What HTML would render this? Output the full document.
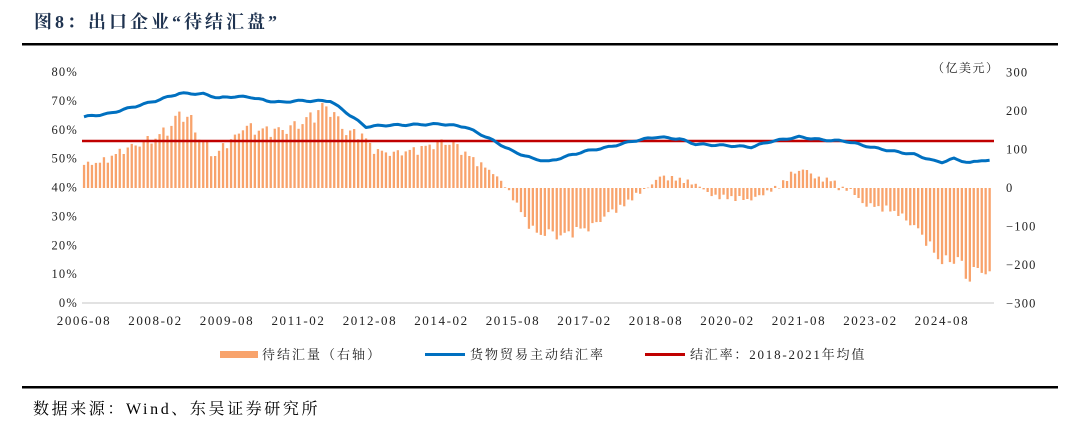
<!DOCTYPE html>
<html><head><meta charset="utf-8"><style>
body{margin:0;background:#fff;width:1080px;height:421px;overflow:hidden;font-family:"Liberation Serif","Noto Serif CJK SC",serif;}
</style></head><body>
<svg id="s" width="1080" height="421" xmlns="http://www.w3.org/2000/svg" font-family="Liberation Serif, Noto Serif CJK SC, serif">
<text x="34" y="28" font-size="18" font-weight="bold" fill="#1f3350" letter-spacing="3">图8：出口企业“待结汇盘”</text>
<rect x="22" y="43" width="1036" height="2.5" fill="#000"/>
<rect x="22" y="386" width="1036" height="2.5" fill="#000"/>
<text x="33" y="414" font-size="16" fill="#000" letter-spacing="2.6">数据来源：Wind、东吴证券研究所</text>
<g id="axes" font-size="12.5" fill="#222" letter-spacing="1.2"></g>
<g id="bars" fill="#f8a36c"></g>
<line x1="82" y1="303" x2="994" y2="303" stroke="#d9d9d9" stroke-width="1.5"/>
<line x1="82" y1="141" x2="994" y2="141" stroke="#c00000" stroke-width="2.5"/>
<polyline id="ln" fill="none" stroke="#0070c0" stroke-width="3" stroke-linejoin="round"/>
<text x="932" y="72" font-size="12" fill="#222" letter-spacing="1.5">（亿美元）</text>
<rect x="220" y="351" width="38" height="7" fill="#f8a36c"/>
<text x="262" y="359" font-size="13" fill="#222" letter-spacing="2">待结汇量（右轴）</text>
<rect x="425" y="353" width="40" height="3" fill="#0070c0"/>
<text x="470" y="359" font-size="13" fill="#222" letter-spacing="2">货物贸易主动结汇率</text>
<rect x="645" y="353" width="40" height="3" fill="#c00000"/>
<text x="690" y="359" font-size="13" fill="#222" letter-spacing="1.8">结汇率：2018-2021年均值</text>
</svg>
<script>
var NS="http://www.w3.org/2000/svg";
function el(t,a,p,txt){var e=document.createElementNS(NS,t);for(var k in a)e.setAttribute(k,a[k]);if(txt!==undefined)e.textContent=txt;p.appendChild(e);return e;}
var ax=document.getElementById('axes');
for(var i=0;i<=8;i++){var y=303-i*28.875;el('text',{x:78,y:y+4,'text-anchor':'end'},ax,(i*10)+'%');}
var rl=[300,200,100,0,-100,-200,-300];
for(var j=0;j<7;j++){var v=rl[j];var y=188-v*0.385;el('text',{x:1006,y:y+4},ax,v<0?'−'+(-v):''+v);}
var labs=['2006-08','2008-02','2009-08','2011-02','2012-08','2014-02','2015-08','2017-02','2018-08','2020-02','2021-08','2023-02','2024-08'];
var px=3.972;
for(var j=0;j<labs.length;j++){el('text',{x:84+j*18*px,y:325,'text-anchor':'middle','font-size':'13','letter-spacing':'1.6'},ax,labs[j]);}
function interp(k,i){for(var n=0;n<k.length-1;n++){if(i>=k[n][0]&&i<=k[n+1][0]){var t=(i-k[n][0])/(k[n+1][0]-k[n][0]);return k[n][1]+t*(k[n+1][1]-k[n][1]);}}return k[k.length-1][1];}
var L=[[0,64.5],[6,65.5],[14,68.5],[18,70],[24,72.6],[30,72.4],[34,71],[38,71.5],[42,71.3],[46,70],[50,69.5],[53,70],[62,70],[65,67],[71,61],[75,61.5],[90,62],[96,61],[102,57],[108,52.5],[113,50],[117,49],[122,51],[126,52.5],[132,54],[138,56],[144,57.5],[150,56.8],[154,55],[162,54.5],[168,54],[173,56],[180,57.5],[186,56.5],[192,56],[198,54],[204,52.5],[209,51.5],[214,49.2],[216,48.8],[219,50],[223,48.5],[226,49.5],[228,49.2]];
var B=[[0,60],[5,70],[10,100],[18,130],[22,160],[24,195],[27,175],[29,130],[31,110],[33,80],[35,110],[38,130],[40,160],[44,150],[50,150],[54,165],[58,190],[60,210],[62,205],[64,175],[66,145],[70,140],[72,110],[74,95],[78,90],[84,100],[90,120],[93,115],[96,90],[100,60],[103,40],[106,5],[108,-25],[111,-80],[114,-120],[117,-115],[120,-125],[124,-110],[128,-100],[132,-65],[136,-45],[138,-25],[141,-5],[143,10],[145,30],[148,25],[151,20],[155,5],[158,-20],[162,-25],[168,-30],[172,-10],[175,5],[178,35],[181,50],[184,30],[186,20],[188,25],[190,0],[193,-5],[196,-40],[200,-50],[204,-60],[208,-90],[211,-120],[214,-170],[217,-195],[220,-180],[222,-230],[225,-215],[227,-210],[228,-240]];
var pts=[],bg=document.getElementById('bars');
for(var i=0;i<=228;i++){var x=84+i*px;var v=interp(L,i)+0.25*Math.sin(i*1.3);pts.push(x.toFixed(1)+','+(303-v*2.8875).toFixed(1));
var b=interp(B,i)*(1+0.08*Math.sin(i*1.7))+6*Math.sin(i*2.9);var yb=188-b*0.385;
el('rect',{x:(x-1.1).toFixed(1),y:Math.min(yb,188).toFixed(1),width:2.3,height:Math.max(Math.abs(yb-188),0.5).toFixed(1)},bg);}
document.getElementById('ln').setAttribute('points',pts.join(' '));
</script>
</body></html>
